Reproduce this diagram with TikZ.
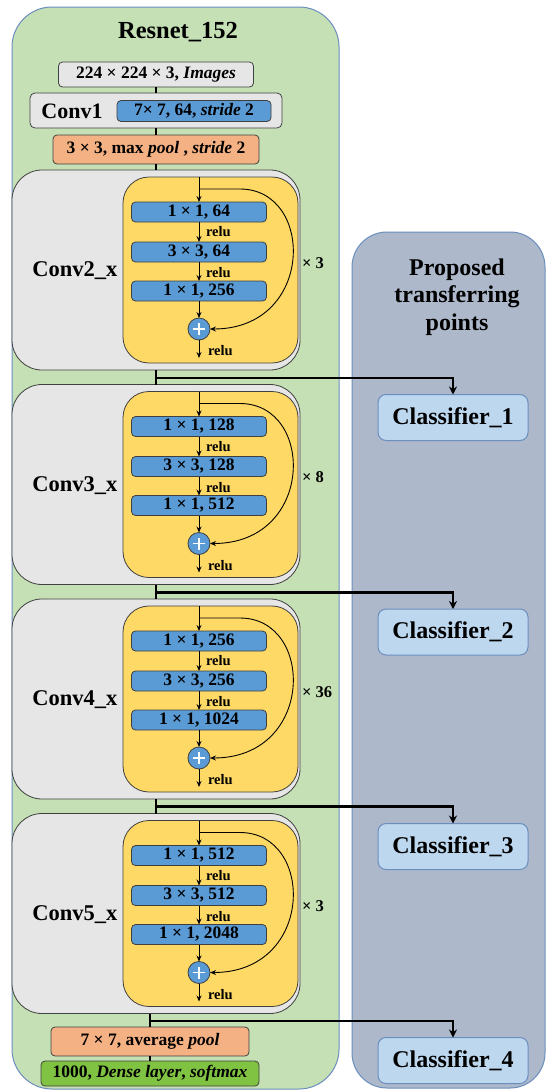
\documentclass[tikz,border=0pt]{standalone}
\usepackage{fontspec}
\setmainfont{Liberation Serif}
\usetikzlibrary{arrows.meta,calc}
\definecolor{greenbg}{HTML}{C5E0B4}
\definecolor{panelbg}{HTML}{ADB9CA}
\definecolor{bordblue}{HTML}{6C8EBF}
\definecolor{lgray}{HTML}{E7E6E6}
\definecolor{bblue}{HTML}{5B9BD5}
\definecolor{yel}{HTML}{FFD966}
\definecolor{salmon}{HTML}{F4B183}
\definecolor{dgreen}{HTML}{80C342}
\definecolor{clsfill}{HTML}{BDD7EE}
\begin{document}
\begin{tikzpicture}[x=1pt,y=-1pt,
 every node/.style={inner sep=0pt, outer sep=0pt},
 mtext/.style={font=\fontsize{17.5}{19}\selectfont\bfseries},
 boxbase/.style={draw=black!75, line width=0.8pt, rounded corners=4pt, mtext},
 graybox/.style={boxbase, fill=lgray},
 bluebox/.style={boxbase, fill=bblue},
 salbox/.style={boxbase, fill=salmon},
 dnsbox/.style={boxbase, fill=dgreen},
 relu/.style={font=\fontsize{14.5}{16}\selectfont\bfseries, anchor=west},
 biglbl/.style={font=\fontsize{22.5}{24}\selectfont\bfseries},
 clsbox/.style={draw=bordblue, line width=1pt, fill=clsfill, rounded corners=8pt, minimum width=150pt, minimum height=46pt, font=\fontsize{24}{26}\selectfont\bfseries},
 plusnode/.style={circle, draw=black!75, line width=0.8pt, fill=bblue, minimum size=22pt,
   path picture={\draw[white, line width=1.3pt] ([xshift=-6pt]path picture bounding box.center) -- ([xshift=6pt]path picture bounding box.center)
     ([yshift=-6pt]path picture bounding box.center) -- ([yshift=6pt]path picture bounding box.center);}},
 conn/.style={line width=2.4pt, black},
 thinarrow/.style={line width=0.9pt, -{Stealth[length=6pt,width=5pt]}},
 bigarrow/.style={conn, -{Stealth[length=8pt,width=8pt]}}
]
\useasboundingbox (0,0) rectangle (546,1090);
% backgrounds
\node[draw=bordblue, line width=1pt, fill=greenbg, rounded corners=40pt, minimum width=327pt, minimum height=1082pt] (green) at (175.5,548) {};
\node[draw=bordblue, line width=1pt, fill=panelbg, rounded corners=35pt, minimum width=193pt, minimum height=856pt] (panel) at (448.5,660) {};
\node[font=\fontsize{24.5}{28}\selectfont\bfseries] (title) at (178,32) {Resnet\_152};
\node[align=center, font=\fontsize{24}{27.5}\selectfont\bfseries] (ptxt) at (457,297) {Proposed\\transferring\\points};
% top stack
\node[graybox, minimum width=195pt, minimum height=25pt] (img) at (156,74.5) {224 × 224 × 3, \textit{Images}};
\node[graybox, minimum width=252pt, minimum height=35pt, rounded corners=5pt] (c1) at (156,110.5) {};
\node[font=\fontsize{22}{24}\selectfont\bfseries] (c1l) at (72,111) {Conv1};
\node[bluebox, minimum width=154pt, minimum height=21pt] (c1b) at (194,111) {7× 7, 64, \textit{stride} 2};
\node[salbox, minimum width=206pt, minimum height=29pt] (mp) at (156,149.5) {3 × 3, max \textit{pool} , \textit{stride} 2};
% blocks
\foreach \i/\T/\ka/\kb/\kc/\rep in {2/170/64/64/256/3, 3/384.5/128/128/512/8, 4/599/256/256/1024/36, 5/813.5/512/512/2048/3}{
 \node[draw=black!75, line width=0.8pt, fill=lgray, rounded corners=30pt, minimum width=288pt, minimum height=200pt] (g\i) at (156,{\T+100}) {};
 \node[draw=black!75, line width=0.8pt, fill=yel, rounded corners=26pt, minimum width=175pt, minimum height=186pt] (y\i) at (210.5,{\T+100}) {};
 \coordinate (in\i) at (199,{\T+7});
 \coordinate (sk\i) at (199,{\T+19});
 \coordinate (out\i) at (199,{\T+188});
 \node[bluebox, minimum width=135pt, minimum height=20pt] (ba\i) at (199,{\T+42}) {1 × 1, \ka};
 \node[bluebox, minimum width=135pt, minimum height=20pt] (bb\i) at (199,{\T+82}) {3 × 3, \kb};
 \node[bluebox, minimum width=135pt, minimum height=20pt] (bc\i) at (199,{\T+121}) {1 × 1, \kc};
 \node[plusnode] (p\i) at (199,{\T+159}) {};
 \draw[thinarrow] (in\i) -- (ba\i);
 \draw[thinarrow] (ba\i) -- (bb\i);
 \draw[thinarrow] (bb\i) -- (bc\i);
 \draw[thinarrow] (bc\i) -- (p\i);
 \draw[thinarrow] (p\i) -- (out\i);
 \draw[thinarrow] (sk\i) -- ++(41,0) .. controls +(75,0) and (315,{\T+159}) .. (p\i.east);
 \node[relu] (ra\i) at (206,{\T+62}) {relu};
 \node[relu] (rb\i) at (206,{\T+103}) {relu};
 \node[relu] (rc\i) at (208,{\T+181}) {relu};
 \node[biglbl] (lbl\i) at (75,{\T+101}) {Conv\i\_x};
 \node[font=\fontsize{16.5}{18}\selectfont\bfseries, anchor=west] (rep\i) at (302,{\T+93}) {× \rep};
}
% bottom stack
\node[salbox, minimum width=198pt, minimum height=29pt] (avg) at (150,1041.5) {7 × 7, average \textit{pool}};
\node[dnsbox, minimum width=218pt, minimum height=25pt] (dense) at (150,1073.5) {1000, \textit{Dense layer}, \textit{softmax}};
% classifiers
\foreach \j/\yy in {1/417.5, 2/632, 3/846.5, 4/1060.5}{
 \node[clsbox] (cls\j) at (453,\yy) {Classifier\_\j};
}
% connectors
\draw[conn] (img) -- (c1);
\draw[conn] (c1) -- (mp);
\draw[conn] (mp) -- (g2);
\draw[conn] (g2) -- (g3);
\draw[conn] (g3) -- (g4);
\draw[conn] (g4) -- (g5);
\draw[conn] (g5.south -| avg.north) -- (avg);
\draw[conn] (avg) -- (dense);
\coordinate (br1) at (156,378);
\coordinate (br2) at (156,592.5);
\coordinate (br3) at (156,806.5);
\coordinate (br4) at ($(avg.north)+(0,-6)$);
\foreach \j in {1,2,3,4}{
 \draw[bigarrow] (br\j) -| (cls\j.north);
}
\end{tikzpicture}
\end{document}
